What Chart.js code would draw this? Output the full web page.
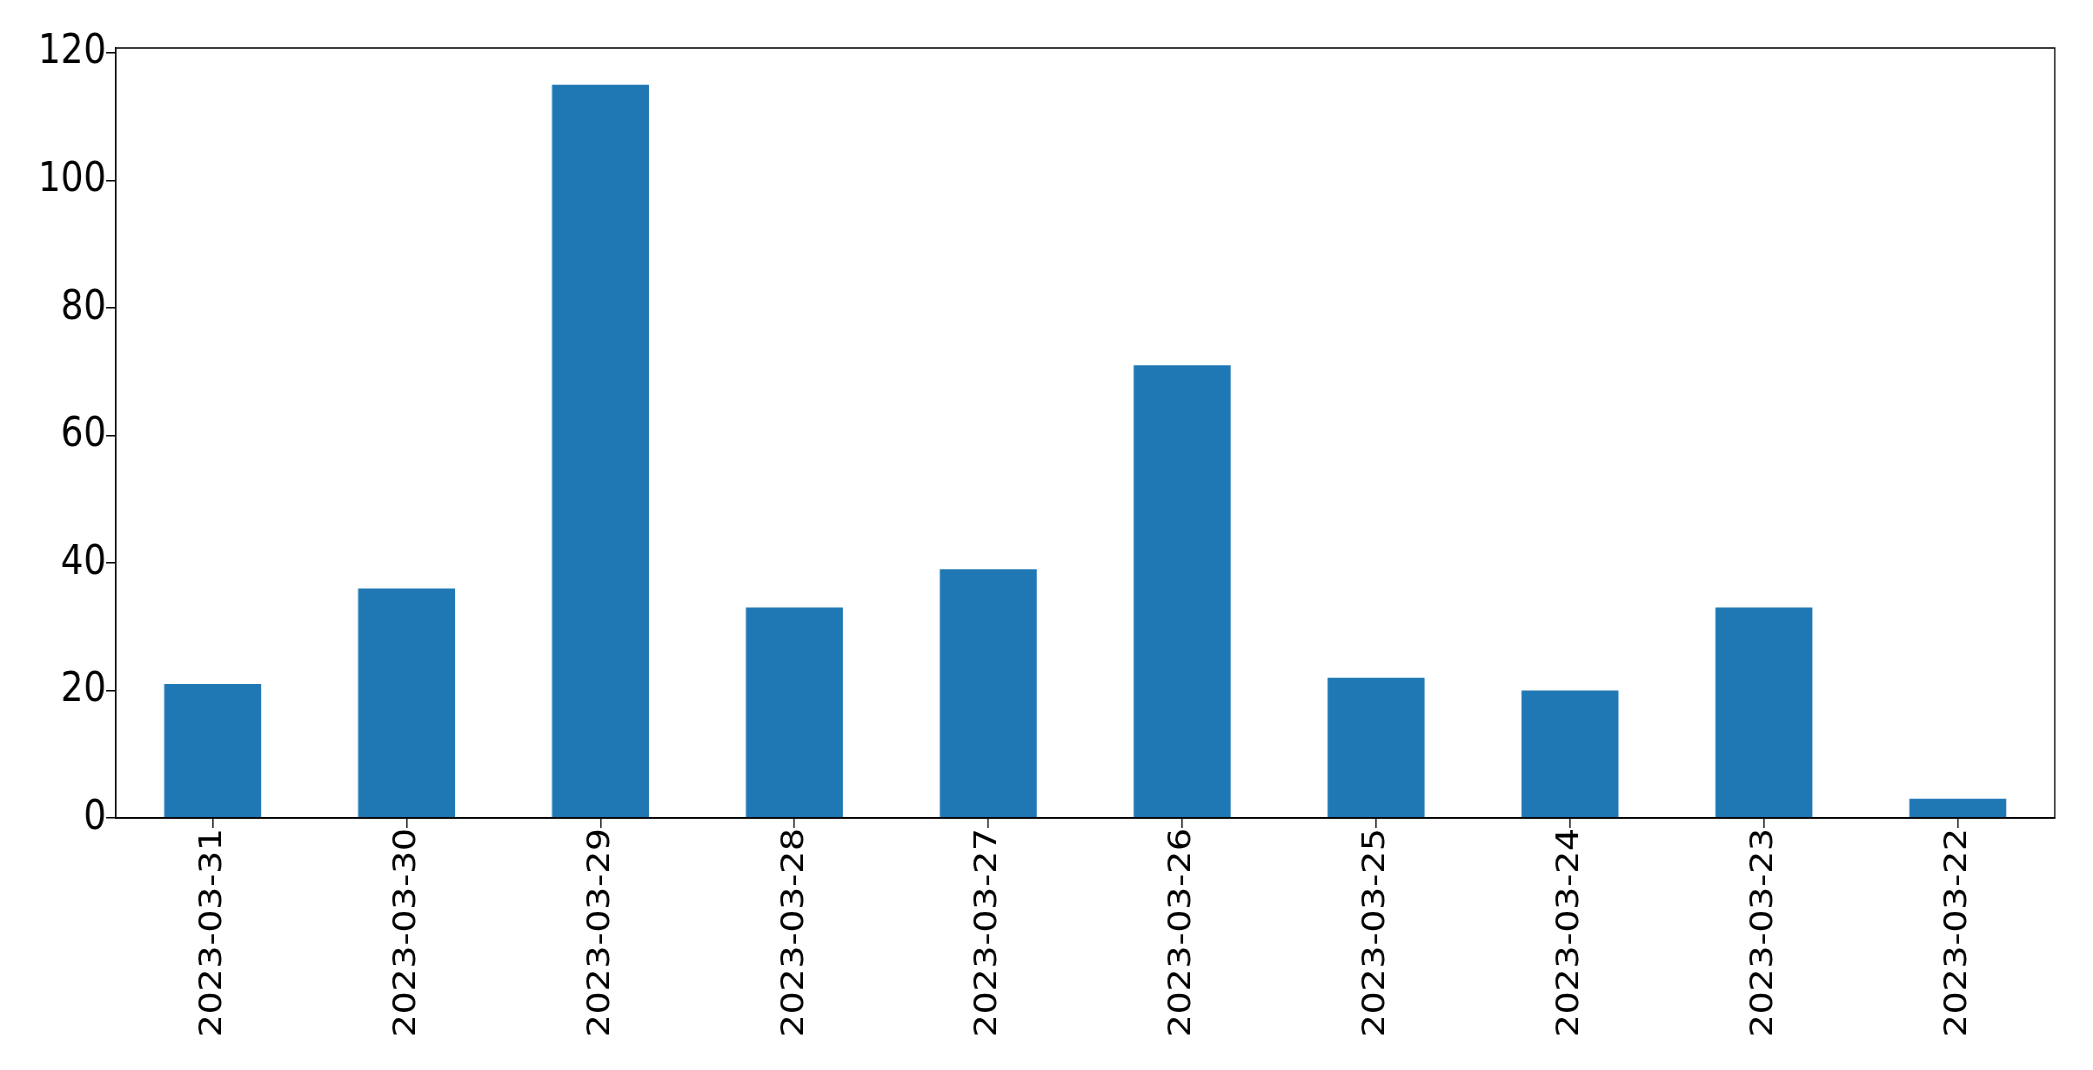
<!DOCTYPE html>
<html>
<head>
<meta charset="utf-8">
<script src="https://cdn.jsdelivr.net/npm/chart.js@4"></script>
<style>
  body { margin: 0; background: #fff; overflow: hidden; }
  #barChart { display: block; }
</style>
</head>
<body>
<canvas id="barChart"></canvas>
<script>
const dates = ['2023-03-31', '2023-03-30', '2023-03-29', '2023-03-28', '2023-03-27',
    '2023-03-26', '2023-03-25', '2023-03-24', '2023-03-23', '2023-03-22']
const counts = [21, 36, 115, 33, 39, 71, 22, 20, 33, 3]
const yTicks = [0, 20, 40, 60, 80, 100, 120]

// the reference is squeezed horizontally, so draw wider and let css squeeze it back
const SX = 0.87
const canvas = document.getElementById('barChart')
canvas.width = Math.round(2093 / SX)
canvas.height = 1070
canvas.style.width = '2093px'
canvas.style.height = '1070px'

// full black frame around the plot area, like matplotlib spines
const frame = {
    id: 'frame',
    afterDatasetsDraw(chart) {
        const { ctx, chartArea: a } = chart
        ctx.save()
        ctx.strokeStyle = '#000'
        ctx.lineWidth = 1.5
        ctx.strokeRect(a.left, a.top, a.right - a.left, a.bottom - a.top)
        ctx.restore()
    }
}

const ctx = canvas.getContext('2d')
new Chart(ctx, {
    type: 'bar',
    data: {
        labels: dates,
        datasets: [{
            data: counts,
            backgroundColor: '#1f77b4',
            categoryPercentage: 1,
            barPercentage: 0.5
        }]
    },
    options: {
        responsive: false,
        devicePixelRatio: 1,
        animation: false,
        layout: { padding: { left: 0, top: 48, right: Math.round(38 / SX), bottom: 0 } },
        plugins: { legend: { display: false }, tooltip: { enabled: false } },
        scales: {
            x: {
                offset: true,
                grid: { display: true, drawOnChartArea: false, offset: false, tickLength: 10, color: '#000', lineWidth: 1.5 },
                border: { display: true, color: '#000', width: 1.5 },
                ticks: {
                    color: '#000',
                    font: { family: 'DejaVu Sans', size: 36 },
                    minRotation: 90,
                    maxRotation: 90,
                    padding: 0,
                    autoSkip: false
                },
                afterFit(scale) { scale.height = 252 }
            },
            y: {
                min: 0,
                max: 120.75,
                afterBuildTicks(scale) { scale.ticks = yTicks.map(v => ({ value: v })) },
                grid: { display: true, drawOnChartArea: false, tickLength: Math.round(10 / SX), color: '#000', lineWidth: 1.5 },
                border: { display: true, color: '#000', width: 1.5 },
                ticks: {
                    color: '#000',
                    font: { family: 'DejaVu Sans', size: 41 },
                    padding: 0
                },
                afterFit(scale) { scale.width = Math.round(116 / SX) }
            }
        }
    },
    plugins: [frame]
})
</script>
</body>
</html>
